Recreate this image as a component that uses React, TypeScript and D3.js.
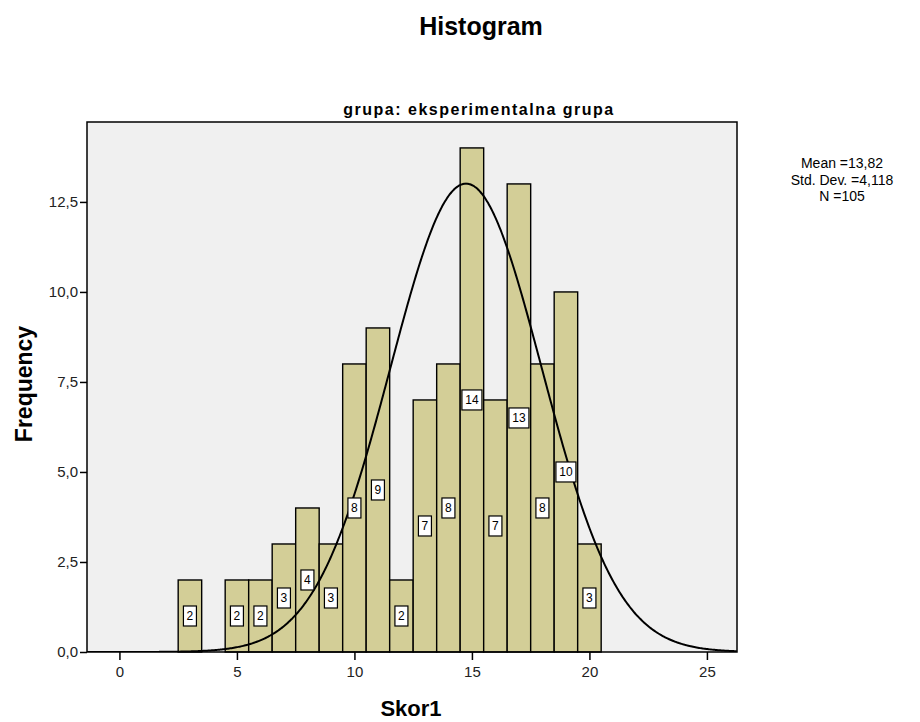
import { useEffect, useRef } from "react";
import * as d3 from "d3";

// Skor1 values (bin midpoints) and their counts
const SCORES = [3, 5, 6, 7, 8, 9, 10, 11, 12, 13, 14, 15, 16, 17, 18, 19, 20];
const COUNTS = [2, 2, 2, 3, 4, 3, 8, 9, 2, 7, 8, 14, 7, 13, 8, 10, 3];
const Y_TICKS = [0, 2.5, 5, 7.5, 10, 12.5];
const X_TICKS = [0, 5, 10, 15, 20, 25];
const STATS_LINES = ["Mean =13,82", "Std. Dev. =4,118", "N =105"];
// normal curve as drawn in the chart
const CURVE_MEAN = 14.75;
const CURVE_SD = 3.22;
const CURVE_N = 105;

const W = 920;
const H = 722;
const BAR_FILL = "#d3ce97";
const PLOT_BG = "#f0f0f0";
const FONT = "Arial, 'Liberation Sans', sans-serif";

export default function App() {
  const ref = useRef<SVGSVGElement>(null);

  useEffect(() => {
    const el = ref.current;
    if (!el) return;
    const svg = d3.select(el);
    svg.selectAll("*").remove();

    const left = 87, right = 737, top = 122, bottom = 652;
    const x = d3.scaleLinear().domain([-1.38, 26.28]).range([left, right]);
    const y = d3.scaleLinear().domain([0, 14.72]).range([bottom, top]);
    const comma = (d: number) => d3.format(".1f")(d).replace(".", ",");

    svg.append("rect").attr("width", W).attr("height", H).attr("fill", "#fff");

    svg.append("rect")
      .attr("x", left).attr("y", top)
      .attr("width", right - left).attr("height", bottom - top)
      .attr("fill", PLOT_BG);

    const clipId = "plot-clip";
    svg.append("defs").append("clipPath").attr("id", clipId)
      .append("rect")
      .attr("x", left).attr("y", top)
      .attr("width", right - left).attr("height", bottom - top);

    const data = SCORES.map((s, i) => ({ s, c: COUNTS[i] }));

    svg.append("g")
      .selectAll("rect")
      .data(data)
      .join("rect")
      .attr("x", (d) => x(d.s - 0.5))
      .attr("y", (d) => y(d.c))
      .attr("width", (d) => x(d.s + 0.5) - x(d.s - 0.5))
      .attr("height", (d) => y(0) - y(d.c))
      .attr("fill", BAR_FILL)
      .attr("stroke", "#000")
      .attr("stroke-width", 1.4);

    // normal curve
    const norm = (v: number) =>
      (CURVE_N / (CURVE_SD * Math.sqrt(2 * Math.PI))) *
      Math.exp(-((v - CURVE_MEAN) ** 2) / (2 * CURVE_SD * CURVE_SD));
    const xs = d3.range(-1.38, 26.3, 0.05);
    svg.append("path")
      .datum(xs)
      .attr("clip-path", `url(#${clipId})`)
      .attr("fill", "none")
      .attr("stroke", "#000")
      .attr("stroke-width", 2)
      .attr("d", d3.line<number>().x((v) => x(v)).y((v) => y(norm(v))).curve(d3.curveBasis));

    // count labels
    const lab = svg.append("g")
      .selectAll("g")
      .data(data)
      .join("g")
      .attr("transform", (d) => `translate(${x(d.s)},${y(d.c / 2)})`);
    lab.append("rect")
      .attr("x", (d) => (d.c >= 10 ? -10 : -6.5))
      .attr("y", -10)
      .attr("width", (d) => (d.c >= 10 ? 20 : 13))
      .attr("height", 20)
      .attr("fill", "#fff")
      .attr("stroke", "#000")
      .attr("stroke-width", 1.2);
    lab.append("text")
      .attr("text-anchor", "middle")
      .attr("dy", "0.36em")
      .attr("font-family", FONT)
      .attr("font-size", 12)
      .attr("fill", "#000")
      .text((d) => d.c);

    // frame
    svg.append("rect")
      .attr("x", left).attr("y", top)
      .attr("width", right - left).attr("height", bottom - top)
      .attr("fill", "none")
      .attr("stroke", "#000")
      .attr("stroke-width", 1.5);

    // y axis
    const yAxis = svg.append("g")
      .attr("transform", `translate(${left},0)`)
      .call(d3.axisLeft(y).tickValues(Y_TICKS).tickSize(7).tickPadding(2).tickFormat((d) => comma(+d)))
      .call((ga) => ga.select(".domain").remove());
    yAxis.selectAll(".tick line").attr("stroke", "#000").attr("stroke-width", 1.5);
    yAxis.selectAll("text")
      .attr("font-family", FONT).attr("font-size", 15).attr("fill", "#222");

    // x axis
    const xAxis = svg.append("g")
      .attr("transform", `translate(0,${bottom})`)
      .call(d3.axisBottom(x).tickValues(X_TICKS).tickSize(8).tickPadding(6).tickFormat((d) => String(d)))
      .call((ga) => ga.select(".domain").remove());
    xAxis.selectAll(".tick line").attr("stroke", "#000").attr("stroke-width", 1.5);
    xAxis.selectAll("text")
      .attr("font-family", FONT).attr("font-size", 15).attr("fill", "#222");

    // titles
    svg.append("text")
      .attr("x", 481).attr("y", 35)
      .attr("text-anchor", "middle")
      .attr("font-family", FONT).attr("font-size", 25).attr("font-weight", 700)
      .text("Histogram");
    svg.append("text")
      .attr("x", 479).attr("y", 115)
      .attr("text-anchor", "middle")
      .attr("font-family", FONT).attr("font-size", 16).attr("font-weight", 700)
      .attr("letter-spacing", 1.5)
      .text("grupa: eksperimentalna grupa");
    svg.append("text")
      .attr("x", 411).attr("y", 716)
      .attr("text-anchor", "middle")
      .attr("font-family", FONT).attr("font-size", 22).attr("font-weight", 700)
      .text("Skor1");
    svg.append("text")
      .attr("transform", `translate(32,${384}) rotate(-90)`)
      .attr("text-anchor", "middle")
      .attr("font-family", FONT).attr("font-size", 23).attr("font-weight", 700)
      .text("Frequency");

    // stats block
    svg.append("g")
      .selectAll("text")
      .data(STATS_LINES)
      .join("text")
      .attr("x", 842)
      .attr("y", (_, i) => 168 + i * 16.5)
      .attr("text-anchor", "middle")
      .attr("font-family", FONT).attr("font-size", 14)
      .attr("fill", "#000")
      .text((d) => d);
  }, []);

  return (
    <svg
      ref={ref}
      width={W}
      height={H}
      style={{ position: "absolute", left: 0, top: 0, display: "block" }}
    />
  );
}
